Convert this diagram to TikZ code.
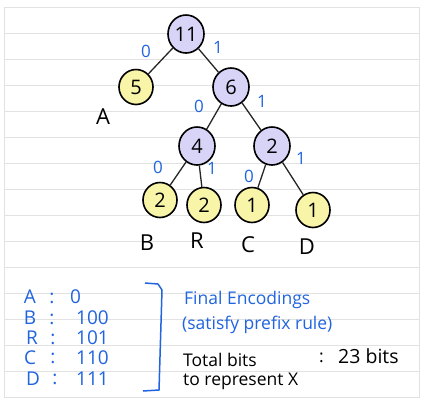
\documentclass[tikz,border=0pt]{standalone}
\usepackage{fontspec}
\setmainfont{Open Sans}
\usetikzlibrary{shapes.geometric}
\definecolor{lav}{RGB}{216,212,248}
\definecolor{yel}{RGB}{248,244,168}
\definecolor{pen}{RGB}{32,100,224}
\definecolor{rule}{RGB}{226,226,226}
\tikzset{
  inner/.style={ellipse,draw=black,line width=1.6pt,fill=lav,minimum width=36pt,minimum height=38pt,inner sep=0pt,font=\fontsize{20}{20}\selectfont},
  leaf/.style={ellipse,draw=black,line width=1.6pt,fill=yel,minimum width=34pt,minimum height=35pt,inner sep=0pt,font=\fontsize{20}{20}\selectfont},
  edge/.style={draw=black!85,line width=1.3pt},
  bit/.style={text=pen,font=\fontsize{17}{17}\selectfont,inner sep=0pt},
  sym/.style={text=black,font=\fontsize{22}{22}\selectfont,inner sep=0pt},
  code/.style={text=pen,font=\fontsize{19}{19}\selectfont,inner sep=0pt},
  note/.style={font=\fontsize{17.5}{17.5}\selectfont,inner sep=0pt,anchor=west}
}
\begin{document}
\begin{tikzpicture}[x=1pt,y=-1pt]
\useasboundingbox (0,0) rectangle (433,400);
\fill[white] (0,0) rectangle (433,400);
% notebook page
\foreach \k in {0,...,13} {\draw[rule,line width=0.8pt] (4,33+26*\k) -- (419,33+26*\k);}
\draw[rule,line width=0.8pt] (4,7) rectangle (419,397);
% tree nodes
\node[inner] (n11) at (186,34) {11};
\node[leaf] (n5) at (136,87) {5};
\node[inner] (n6) at (231,87) {6};
\node[inner] (n4) at (197,146) {4};
\node[inner] (n2r) at (272,146) {2};
\node[leaf] (nB) at (160,200) {2};
\node[leaf] (nR) at (204,205) {2};
\node[leaf] (nC) at (252,205) {1};
\node[leaf] (nD) at (313,210) {1};
% edges
\path[edge] (n11) -- (n5);
\path[edge] (n11) -- (n6);
\path[edge] (n6) -- (n4);
\path[edge] (n6) -- (n2r);
\path[edge] (n4) -- (nB);
\path[edge] (n4) -- (nR);
\path[edge] (n2r) -- (nC);
\path[edge] (n2r) -- (nD);
% bit labels
\node[bit] (b1) at (146,51) {0};
\node[bit] (b2) at (218,47) {1};
\node[bit] (b3) at (199,106) {0};
\node[bit] (b4) at (262,101) {1};
\node[bit] (b5) at (158,167) {0};
\node[bit] (b6) at (212,168) {1};
\node[bit] (b7) at (249,176) {0};
\node[bit] (b8) at (301,158) {1};
% symbols
\node[sym] (sA) at (103,117) {A};
\node[sym] (sB) at (147,243) {B};
\node[sym] (sR) at (197,241) {R};
\node[sym] (sC) at (248,245) {C};
\node[sym] (sD) at (307,247) {D};
% code table
\node[code] (cA) at (30,297) {A};
\node[code] (kA) at (52,298) {:};
\node[code,anchor=west] (vA) at (70,297) {0};
\node[code] (cB) at (30,318) {B};
\node[code] (kB) at (52,319) {:};
\node[code,anchor=west] (vB) at (76,318) {100};
\node[code] (cR) at (32,338) {R};
\node[code] (kR) at (53,339) {:};
\node[code,anchor=west] (vR) at (76,338) {101};
\node[code] (cC) at (30,358) {C};
\node[code] (kC) at (53,358) {:};
\node[code,anchor=west] (vC) at (76,358) {110};
\node[code] (cD) at (33,379) {D};
\node[code] (kD) at (55,379) {:};
\node[code,anchor=west] (vD) at (76,379) {111};
% bracket
\draw[pen,line width=1.5pt,line join=round] (145,283) -- (158,284) -- (162,290) -- (159,390) -- (143,391);
% notes
\node[note,text=pen] (t1) at (184,300) {Final Encodings};
\node[note,text=pen] (t2) at (182,325) {(satisfy prefix rule)};
\node[note] (t3) at (183,360) {Total bits};
\node[note] (t4) at (319,358) {:};
\node[note,font=\fontsize{19.5}{19.5}\selectfont] (t6) at (338,356) {23 bits};
\node[note] (t5) at (183,381) {to represent X};
\end{tikzpicture}
\end{document}
